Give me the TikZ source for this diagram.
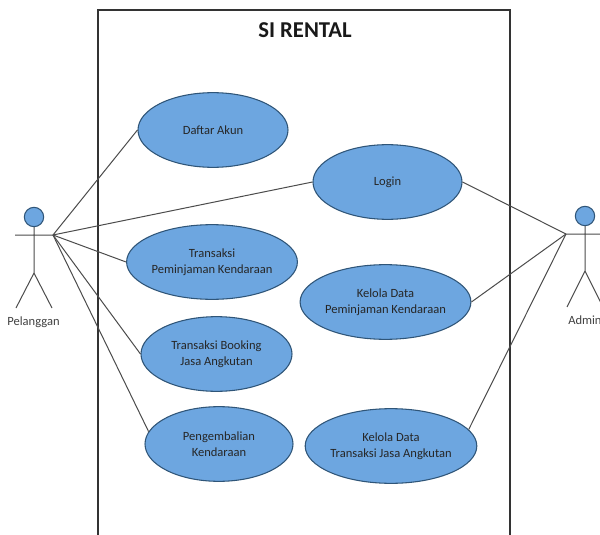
\documentclass[tikz,border=0pt]{standalone}
\usepackage{fontspec}
\setmainfont{Carlito}
\usetikzlibrary{shapes.geometric}
\definecolor{ucfill}{HTML}{6DA6E0}
\definecolor{ucline}{HTML}{2F5578}
\tikzset{
 x=0.75pt,y=-0.75pt,
 usecase/.style={ellipse,draw=ucline,fill=ucfill,line width=0.8pt,minimum width=#1*0.75pt,minimum height=56pt,align=center,font=\fontsize{9.4pt}{11.6pt}\selectfont,text=black!85,inner sep=0pt},
 usecase/.default=150,
 wire/.style={draw=black!70,line width=0.75pt},
 head/.style={circle,draw=ucline,fill=ucfill,line width=0.8pt,minimum size=14.5pt,inner sep=0pt},
 actorlabel/.style={font=\fontsize{9.4pt}{11pt}\selectfont,text=black!75},
}
\begin{document}
\begin{tikzpicture}
\useasboundingbox (0,0) rectangle (600,535);
\fill[white] (0,0) rectangle (600,535);
\draw[black!80,line width=0.95pt] (98,535) -- (98,10) -- (510,10) -- (510,535);
\node[font=\bfseries\fontsize{17pt}{19pt}\selectfont,text=black!90] (title) at (305,30) {SI RENTAL};
\node[usecase=150] (daftar) at (213,130) {Daftar Akun};
\node[usecase=149] (login) at (387.5,182) {Login};
\node[usecase=150] (pinjam) at (212,262) {Transaksi\\Peminjaman Kendaraan};
\node[usecase=151] (booking) at (216.5,354) {Transaksi Booking\\Jasa Angkutan};
\node[usecase=148] (kembali) at (219,444) {Pengembalian\\Kendaraan};
\node[usecase=147] (kelpinjam) at (385.5,302) {Kelola Data\\Peminjaman Kendaraan};
\node[usecase=148] (keljasa) at (391,446) {Kelola Data\\Transaksi Jasa Angkutan};
% Pelanggan
\node[head] (h1) at (34,217) {};
\coordinate (p1) at (53,235);
\coordinate (a1) at (15,235);
\coordinate (w1) at (34,273);
\coordinate (f1) at (16,308);
\coordinate (g1) at (52,308);
\draw[wire] (h1.south) -- (w1) (a1) -- (p1) (w1) -- (f1) (w1) -- (g1);
\node[actorlabel] (l1) at (33.5,322) {Pelanggan};
% Admin
\node[head] (h2) at (585,216) {};
\coordinate (p2) at (566,234);
\coordinate (a2) at (600,234);
\coordinate (w2) at (585,271);
\coordinate (f2) at (567,307);
\coordinate (g2) at (603,307);
\draw[wire] (h2.south) -- (w2) (p2) -- (a2) (w2) -- (f2) (w2) -- (g2);
\node[actorlabel,anchor=west,inner sep=0pt] (l2) at (568,320) {Admin};
\draw[wire] (p1) -- (daftar.west);
\draw[wire] (p1) -- (login.west);
\draw[wire] (p1) -- (pinjam.west);
\draw[wire] (p1) -- (booking.west);
\draw[wire] (p1) -- (kembali.170);
\draw[wire] (p2) -- (login.east);
\draw[wire] (p2) -- (kelpinjam.east);
\draw[wire] (p2) -- (keljasa.12);
\end{tikzpicture}
\end{document}
